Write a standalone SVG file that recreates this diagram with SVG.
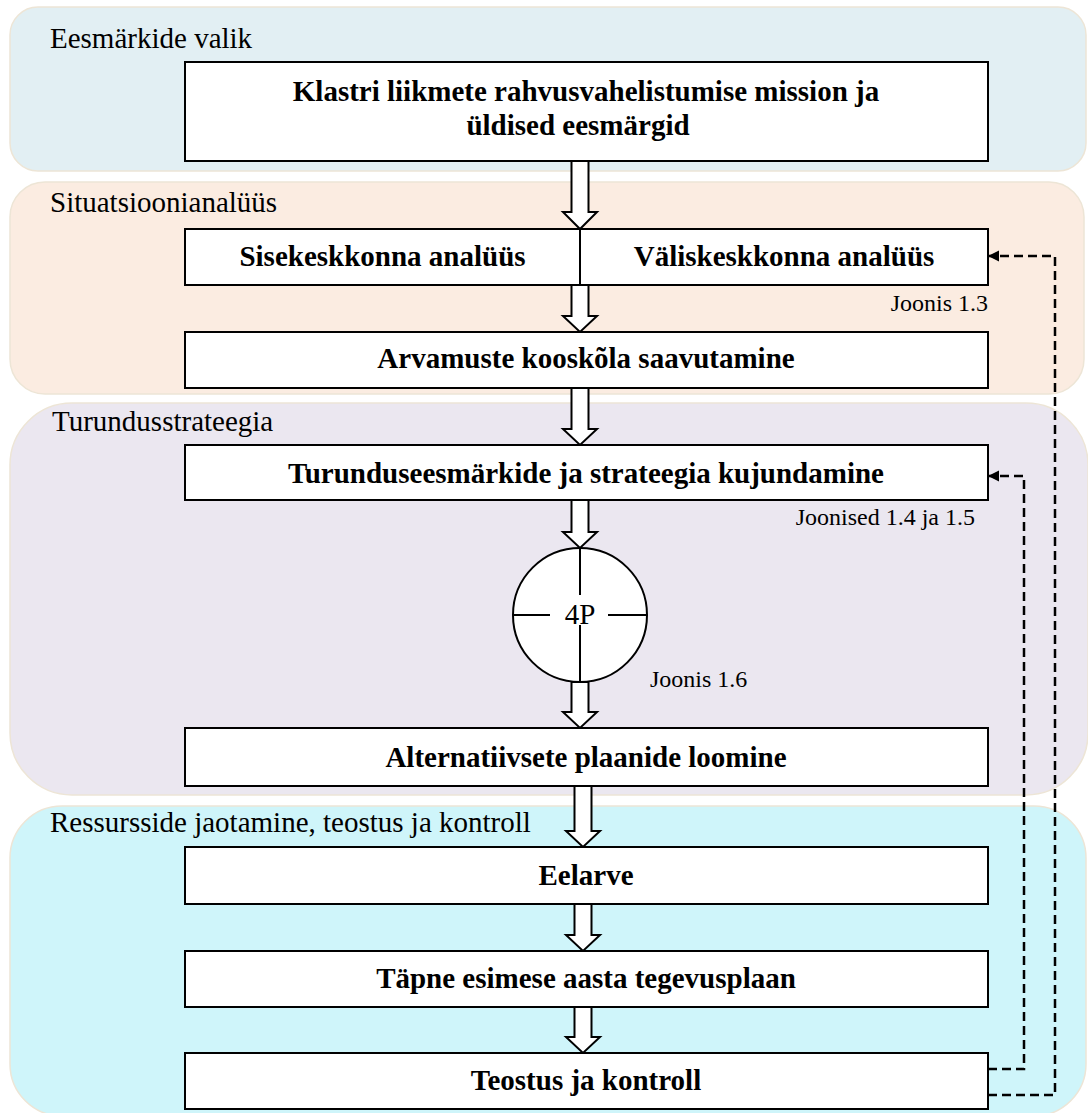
<svg xmlns="http://www.w3.org/2000/svg" width="1088" height="1113" viewBox="0 0 1088 1113">
  <defs>
    <marker id="tip" markerWidth="12" markerHeight="12" refX="11" refY="5.5" orient="auto" markerUnits="userSpaceOnUse">
      <path d="M0,0 L11,5.5 L0,11 Z" fill="#000"/>
    </marker>
  </defs>
  <style>
    .panel{stroke:#EDE5D6;stroke-width:1.5}
    .box{fill:#fff;stroke:#000;stroke-width:2}
    .arr{fill:#fff;stroke:#000;stroke-width:2;stroke-linejoin:miter}
    .txt{font-family:"Liberation Serif","Times New Roman",serif;fill:#000}
    .sec{font-size:29px}
    .lbl{font-size:29px;font-weight:bold;text-anchor:middle}
    .ref{font-size:24px}
    .fb{fill:none;stroke:#000;stroke-width:2.5;stroke-dasharray:9 5}
    .cross{stroke:#000;stroke-width:2}
  </style>

  <!-- stage panels -->
  <g id="stage-goals">
    <rect class="panel" x="10" y="7" width="1076" height="164" rx="28" fill="#E2EFF3"/>
    <text class="txt sec" x="50" y="48">Eesmärkide valik</text>
  </g>
  <g id="stage-analysis">
    <rect class="panel" x="10" y="182" width="1074" height="212" rx="35" fill="#FBECE1"/>
    <text class="txt sec" x="50" y="212">Situatsioonianalüüs</text>
  </g>
  <g id="stage-strategy">
    <rect class="panel" x="10" y="403" width="1078" height="392" rx="62" fill="#EBE7F0"/>
    <text class="txt sec" x="52" y="431">Turundusstrateegia</text>
  </g>
  <g id="stage-execution">
    <rect class="panel" x="10" y="806" width="1076" height="310" rx="52" fill="#CFF5FA"/>
    <text class="txt sec" x="50" y="832">Ressursside jaotamine, teostus ja kontroll</text>
  </g>

  <!-- block arrows and feedback lines -->
  <g id="connectors">
    <polygon class="arr" points="571.5,161 588.5,161 588.5,212 597,212 580,229 563,212 571.5,212"/>
    <polygon class="arr" points="571.5,285 588.5,285 588.5,316 597,316 580,332 563,316 571.5,316"/>
    <polygon class="arr" points="571.5,388 588.5,388 588.5,429 597,429 580,445 563,429 571.5,429"/>
    <polygon class="arr" points="571.5,500 588.5,500 588.5,532 597,532 580,548 563,532 571.5,532"/>
    <polygon class="arr" points="571.5,682 588.5,682 588.5,712 597,712 580,728 563,712 571.5,712"/>
    <polygon class="arr" points="574.5,786 591.5,786 591.5,831 600,831 583,847 566,831 574.5,831"/>
    <polygon class="arr" points="574.5,904 591.5,904 591.5,935 600,935 583,951 566,935 574.5,935"/>
    <polygon class="arr" points="574.5,1007 591.5,1007 591.5,1037 600,1037 583,1053 566,1037 574.5,1037"/>
    <path class="fb" d="M988,1069 H1024 V476 H988" marker-end="url(#tip)"/>
    <path class="fb" d="M988,1095 H1055 V256 H988" marker-end="url(#tip)"/>
  </g>

  <g id="mission">
    <rect class="box" x="185" y="62" width="803" height="99"/>
    <text class="txt lbl" x="586" y="101">Klastri liikmete rahvusvahelistumise mission ja</text>
    <text class="txt lbl" x="578" y="135">üldised eesmärgid</text>
  </g>
  <g id="internal-analysis">
    <rect class="box" x="185" y="229" width="395" height="56"/>
    <text class="txt lbl" x="382.5" y="266">Sisekeskkonna analüüs</text>
  </g>
  <g id="external-analysis">
    <rect class="box" x="580" y="229" width="408" height="56"/>
    <text class="txt lbl" x="784" y="266">Väliskeskkonna analüüs</text>
    <text class="txt ref" x="988" y="311" text-anchor="end">Joonis 1.3</text>
  </g>
  <g id="consensus">
    <rect class="box" x="185" y="332" width="803" height="56"/>
    <text class="txt lbl" x="586" y="368">Arvamuste kooskõla saavutamine</text>
  </g>
  <g id="objectives">
    <rect class="box" x="185" y="445" width="803" height="55"/>
    <text class="txt lbl" x="586" y="483">Turunduseesmärkide ja strateegia kujundamine</text>
    <text class="txt ref" x="975" y="525" text-anchor="end">Joonised 1.4 ja 1.5</text>
  </g>
  <g id="marketing-mix">
    <circle cx="580" cy="615" r="67" fill="#fff" stroke="#000" stroke-width="2"/>
    <line class="cross" x1="580" y1="548" x2="580" y2="595"/>
    <line class="cross" x1="580" y1="625" x2="580" y2="682"/>
    <line class="cross" x1="513" y1="615" x2="550" y2="615"/>
    <line class="cross" x1="608" y1="615" x2="647" y2="615"/>
    <text class="txt" x="580" y="624" font-size="29" text-anchor="middle">4P</text>
    <text class="txt ref" x="650" y="687">Joonis 1.6</text>
  </g>
  <g id="alternatives">
    <rect class="box" x="185" y="728" width="803" height="58"/>
    <text class="txt lbl" x="586" y="767">Alternatiivsete plaanide loomine</text>
  </g>
  <g id="budget">
    <rect class="box" x="185" y="847" width="803" height="57"/>
    <text class="txt lbl" x="586" y="885">Eelarve</text>
  </g>
  <g id="action-plan">
    <rect class="box" x="185" y="951" width="803" height="56"/>
    <text class="txt lbl" x="586" y="988">Täpne esimese aasta tegevusplaan</text>
  </g>
  <g id="execution">
    <rect class="box" x="185" y="1053" width="803" height="56"/>
    <text class="txt lbl" x="586" y="1090">Teostus ja kontroll</text>
  </g>
</svg>
